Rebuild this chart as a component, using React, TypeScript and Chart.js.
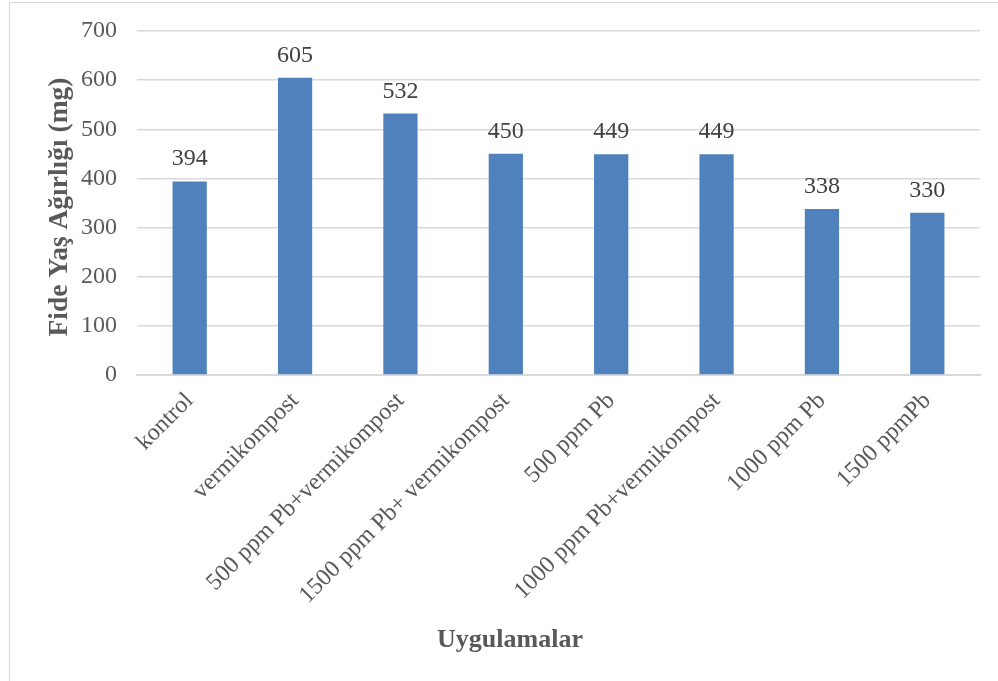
import React, { useEffect, useRef } from "react";
import { Chart, registerables } from "chart.js";

Chart.register(...registerables);

const categories = [
  "kontrol",
  "vermikompost",
  "500 ppm Pb+vermikompost",
  "1500 ppm Pb+ vermikompost",
  "500 ppm Pb",
  "1000 ppm Pb+vermikompost",
  "1000 ppm Pb",
  "1500 ppmPb",
];
const weights = [394, 605, 532, 450, 449, 449, 338, 330];
const yTicks = [0, 100, 200, 300, 400, 500, 600, 700];

const yTitle = "Fide Yaş Ağırlığı (mg)";
const xTitle = "Uygulamalar";

const SERIF = "'Liberation Serif', 'Times New Roman', serif";

// Value labels above bars and the two axis titles.
const annotatePlugin = {
  id: "annotate",
  afterDatasetsDraw(chart: any) {
    const { ctx } = chart;
    const meta = chart.getDatasetMeta(0);
    ctx.save();
    ctx.font = `24px ${SERIF}`;
    ctx.fillStyle = "#404040";
    ctx.textAlign = "center";
    ctx.textBaseline = "alphabetic";
    meta.data.forEach((bar: any, i: number) => {
      ctx.fillText(String(weights[i]), bar.x, bar.y - 16);
    });

    ctx.font = `bold 26px ${SERIF}`;
    ctx.fillStyle = "#595959";
    ctx.fillText(xTitle, 510, 647);

    ctx.font = `bold 27.5px ${SERIF}`;
    ctx.translate(67, 207);
    ctx.rotate(-Math.PI / 2);
    ctx.fillText(yTitle, 0, 0);
    ctx.restore();
  },
};

export default function App() {
  const canvasRef = useRef<HTMLCanvasElement | null>(null);

  useEffect(() => {
    if (!canvasRef.current) return;
    const chart = new Chart(canvasRef.current, {
      type: "bar",
      data: {
        labels: categories,
        datasets: [
          {
            data: weights,
            backgroundColor: "#4F81BD",
            categoryPercentage: 1,
            barPercentage: 0.325,
          },
        ],
      },
      options: {
        animation: false,
        responsive: false,
        maintainAspectRatio: false,
        layout: { padding: { top: 31, right: 18, left: 0, bottom: 0 } },
        plugins: {
          legend: { display: false },
          tooltip: { enabled: false },
        },
        scales: {
          x: {
            afterFit: (s: any) => {
              s.height = 306;
              s.paddingLeft = 0;
              s.paddingRight = 0;
            },
            grid: { display: false, drawTicks: false },
            border: { display: true, color: "#d9d9d9", width: 2 },
            ticks: {
              minRotation: 45,
              maxRotation: 45,
              padding: 12,
              autoSkip: false,
              color: "#595959",
              font: { family: SERIF, size: 24 },
            },
          },
          y: {
            min: 0,
            max: 700,
            afterFit: (s: any) => {
              s.width = 137;
              s.paddingTop = 0;
              s.paddingBottom = 0;
            },
            afterBuildTicks: (s: any) => {
              s.ticks = yTicks.map((v) => ({ value: v }));
            },
            grid: { color: "#d9d9d9", lineWidth: 1.5, drawTicks: false },
            border: { display: false },
            ticks: {
              padding: 20,
              color: "#595959",
              font: { family: SERIF, size: 24 },
            },
          },
        },
      },
      plugins: [annotatePlugin],
    });
    return () => chart.destroy();
  }, []);

  return (
    <div
      style={{
        position: "absolute",
        left: 0,
        top: 0,
        width: 998,
        height: 681,
        background: "#fff",
        overflow: "hidden",
      }}
    >
      <div
        style={{
          position: "absolute",
          left: 9,
          top: 2,
          width: 1010,
          height: 700,
          border: "1.5px solid #d9d9d9",
          boxSizing: "border-box",
        }}
      />
      <canvas
        ref={canvasRef}
        width={998}
        height={681}
        style={{ position: "absolute", left: 0, top: 0 }}
      />
    </div>
  );
}
